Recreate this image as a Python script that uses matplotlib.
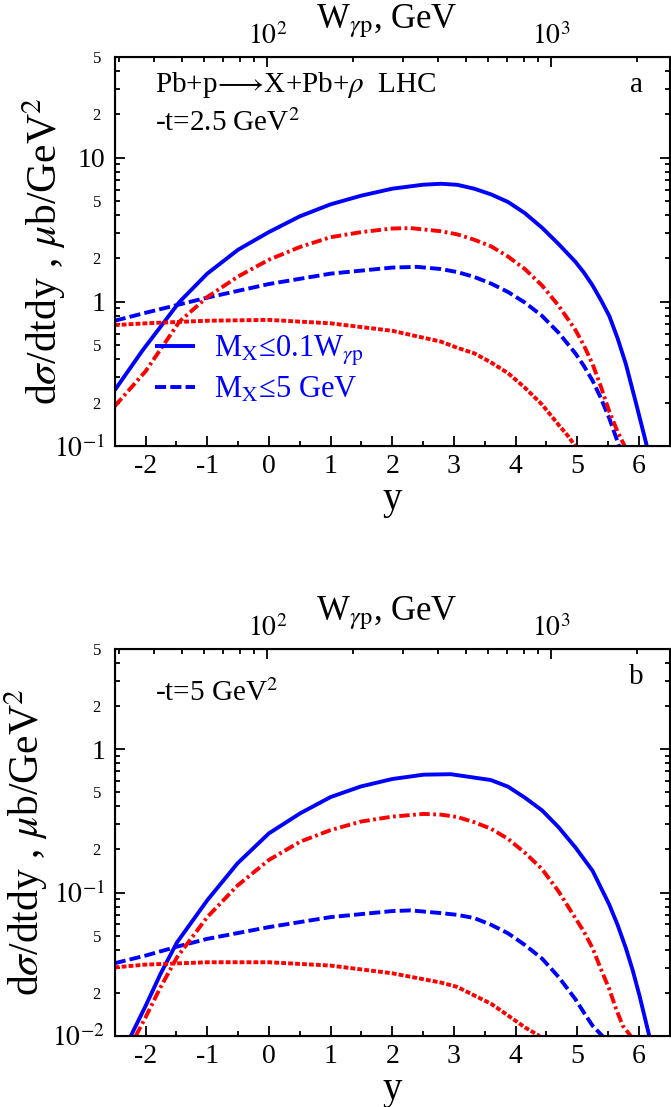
import numpy as np
import matplotlib
matplotlib.use("Agg")
import matplotlib.pyplot as plt
from matplotlib.ticker import FixedLocator, FixedFormatter, NullFormatter

plt.rcParams['font.family'] = ['Liberation Serif', 'DejaVu Serif']
plt.rcParams['mathtext.fontset'] = 'stix'
plt.rcParams['lines.scale_dashes'] = False

# ---- panel a : -t = 2.5 GeV^2 ----
ya_solid = [-2.5, -2.05, -1.45, -1.0, -0.5, 0.0, 0.5, 1.0, 1.5, 2.0, 2.5, 2.79, 3.056, 3.33,
            3.603, 3.88, 4.151, 4.43, 4.698, 4.97, 5.108, 5.25, 5.382, 5.52, 5.655, 5.79,
            5.96, 6.13]
va_solid = [0.244, 0.46, 1.0, 1.57, 2.3, 3.05, 3.92, 4.75, 5.46, 6.1, 6.5, 6.6, 6.49, 6.1,
            5.57, 4.93, 4.13, 3.27, 2.52, 1.90, 1.60, 1.30, 1.035, 0.80, 0.56, 0.37,
            0.194, 0.1]

ya_dash = [-2.5, -2.0, -1.45, -1.0, 0.0, 1.0, 2.0, 2.4, 2.79, 3.056, 3.33, 3.603, 3.88,
           4.151, 4.43, 4.70, 4.97, 5.108, 5.25, 5.382, 5.52, 5.68]
va_dash = [0.74, 0.84, 0.96, 1.07, 1.33, 1.57, 1.73, 1.75, 1.69, 1.61, 1.49, 1.34, 1.17,
           0.99, 0.80, 0.61, 0.44, 0.36, 0.284, 0.216, 0.156, 0.1]

ya_dashdot = [-2.5, -2.0, -1.45, -1.0, -0.5, 0.0, 0.5, 1.0, 1.5, 2.0, 2.3, 2.79, 3.056,
              3.33, 3.603, 3.88, 4.151, 4.43, 4.70, 4.97, 5.108, 5.25, 5.382, 5.52, 5.655,
              5.77]
va_dashdot = [0.189, 0.33, 0.73, 1.08, 1.5, 1.96, 2.4, 2.81, 3.05, 3.23, 3.25, 3.09, 2.94,
              2.70, 2.43, 2.06, 1.69, 1.30, 0.94, 0.64, 0.50, 0.37, 0.26, 0.174, 0.126,
              0.1]

ya_dot = [-2.5, -2.0, -1.0, 0.0, 1.0, 2.0, 2.79, 3.056, 3.33, 3.603, 3.88, 4.151, 4.43,
          4.70, 4.84, 4.97]
va_dot = [0.69, 0.71, 0.74, 0.75, 0.71, 0.63, 0.53, 0.48, 0.44, 0.38, 0.32, 0.254, 0.194,
          0.14, 0.119, 0.1]

# ---- panel b : -t = 5 GeV^2 ----
yb_solid = [-2.24, -2.0, -1.76, -1.49, -1.0, -0.51, 0.0, 0.51, 1.0, 1.49, 2.0, 2.51, 2.95,
            3.6, 3.88, 4.151, 4.43, 4.698, 4.97, 5.25, 5.382, 5.52, 5.655, 5.79, 5.9,
            6.01, 6.17]
vb_solid = [0.01, 0.0162, 0.027, 0.045, 0.0884, 0.16, 0.259, 0.358, 0.464, 0.55, 0.62, 0.665,
            0.67, 0.61, 0.548, 0.46, 0.375, 0.286, 0.207, 0.142, 0.109, 0.0826, 0.0597,
            0.041, 0.0288, 0.0192, 0.01]

yb_dash = [-2.5, -2.0, -1.49, -1.0, 0.0, 1.0, 2.0, 2.3, 2.79, 3.056, 3.33, 3.603, 3.88,
           4.151, 4.43, 4.70, 4.97, 5.108, 5.25, 5.41]
vb_dash = [0.0322, 0.0364, 0.042, 0.0476, 0.0575, 0.0675, 0.0744, 0.0752, 0.072, 0.070,
           0.0665, 0.0597, 0.052, 0.0432, 0.0347, 0.0258, 0.0181, 0.0146, 0.0118, 0.01]

yb_dashdot = [-2.16, -2.0, -1.76, -1.49, -1.0, -0.51, 0.0, 0.51, 1.0, 1.49, 2.0, 2.51, 2.79,
              3.056, 3.33, 3.603, 3.88, 4.151, 4.43, 4.698, 4.97, 5.108, 5.25, 5.382, 5.52,
              5.63, 5.74, 5.87]
vb_dashdot = [0.01, 0.0135, 0.0218, 0.0354, 0.0675, 0.112, 0.169, 0.227, 0.273, 0.313, 0.339,
              0.354, 0.35, 0.337, 0.31, 0.279, 0.237, 0.19, 0.146, 0.102, 0.0665, 0.0536,
              0.041, 0.0295, 0.0213, 0.0155, 0.0118, 0.01]

yb_dot = [-2.5, -2.0, -1.0, 0.0, 1.0, 2.0, 2.79, 3.056, 3.33, 3.603, 3.88, 4.151, 4.39]
vb_dot = [0.0301, 0.0315, 0.0327, 0.0327, 0.031, 0.0274, 0.0236, 0.022, 0.0192, 0.0168,
          0.0139, 0.0115, 0.01]

# W_gamma p axis (top)
W_major = [100, 1000]
W_major_lab = ['$10^2$', '$10^3$']
W_minor = [30, 40, 50, 60, 70, 80, 90, 200, 300, 400, 500, 600, 700, 800, 900, 2000]


def y_of_W(w):
    # W = 100 GeV * exp(y/2)
    return 2.0 * np.log(np.asarray(w) / 100.0) - 0.025


def setup_panel(ax, ylo, yhi, major, major_lab, ylab_x):
    ax.set_xlim(-2.5, 6.5)
    ax.set_yscale('log')
    ax.set_ylim(ylo, yhi)
    ax.xaxis.set_major_locator(FixedLocator(np.arange(-2, 7, 1)))
    ax.xaxis.set_minor_locator(FixedLocator(np.arange(-2.5, 6.6, 1.0)))
    ax.xaxis.set_major_formatter(FixedFormatter([str(i) for i in range(-2, 7)]))

    minors = []
    minor_lab = []
    d = ylo
    while d < yhi * 0.99:
        for k in range(2, 10):
            v = d * k
            if v <= yhi * 1.001:
                minors.append(v)
                minor_lab.append(str(k) if k in (2, 5) else '')
        d *= 10
    ax.yaxis.set_major_locator(FixedLocator(major))
    ax.yaxis.set_major_formatter(FixedFormatter(major_lab))
    ax.yaxis.set_minor_locator(FixedLocator(minors))
    ax.yaxis.set_minor_formatter(FixedFormatter(minor_lab))

    ax.tick_params(which='both', direction='in', top=False, right=True, width=1.3)
    ax.tick_params(which='major', length=7)
    ax.tick_params(which='minor', length=3.5)
    ax.tick_params(axis='x', which='major', labelsize=20, pad=6)
    ax.tick_params(axis='y', which='major', labelsize=20, pad=7)
    ax.tick_params(axis='y', which='minor', labelsize=12, pad=10)
    for s in ax.spines.values():
        s.set_linewidth(1.5)

    ax2 = ax.twiny()
    ax2.set_xlim(ax.get_xlim())
    ax2.xaxis.set_major_locator(FixedLocator(y_of_W(W_major)))
    ax2.xaxis.set_major_formatter(FixedFormatter(W_major_lab))
    ax2.xaxis.set_minor_locator(FixedLocator(y_of_W(W_minor)))
    ax2.xaxis.set_minor_formatter(NullFormatter())
    ax2.tick_params(which='both', direction='in', width=1.3, labelsize=20, pad=5)
    ax2.tick_params(which='major', length=7)
    ax2.tick_params(which='minor', length=3.5)
    ax.text(0.49, 1.075, 'W$_{\\gamma\\mathrm{p}}$, GeV', transform=ax.transAxes,
            fontsize=25, ha='center', va='baseline')

    ax.set_xlabel('y', fontsize=28, va='top')
    ax.xaxis.set_label_coords(0.5, -0.09)
    ax.set_ylabel('d$\\sigma$/dtdy , $\\mu$b/GeV$^2$', fontsize=30)
    ax.yaxis.set_label_coords(ylab_x, 0.5)


fig = plt.figure(figsize=(6.71, 11.07), dpi=100)
ax_a = fig.add_axes([0.171, 0.5971, 0.827, 0.3514])
ax_b = fig.add_axes([0.171, 0.0641, 0.827, 0.3496])

lw = 2.8
for ax, data in [(ax_a, (ya_solid, va_solid, ya_dash, va_dash, ya_dashdot, va_dashdot, ya_dot, va_dot)),
                 (ax_b, (yb_solid, vb_solid, yb_dash, vb_dash, yb_dashdot, vb_dashdot, yb_dot, vb_dot))]:
    ys, vs, yd, vd, ydd, vdd, ydt, vdt = data
    ln1, = ax.plot(ys, vs, color='blue', lw=lw, solid_capstyle='butt')
    ln2, = ax.plot(yd, vd, color='blue', lw=lw, dashes=(8, 3))
    ax.plot(ydd, vdd, color='red', lw=lw, dashes=(7.5, 2.5, 2, 2.5))
    ax.plot(ydt, vdt, color='red', lw=lw, dashes=(3.5, 1.5))
    if ax is ax_a:
        leg_handles = [ln1, ln2]

setup_panel(ax_a, 0.1, 50, [0.1, 1, 10], ['$10^{-1}$', '1', '10'], -0.085)
setup_panel(ax_b, 0.01, 5, [0.01, 0.1, 1], ['$10^{-2}$', '$10^{-1}$', '1'], -0.117)

ax_a.text(0.073, 0.928, 'Pb+p$\\!\\longrightarrow\\!$X+Pb+$\\rho$  LHC', transform=ax_a.transAxes,
          fontsize=21, va='center')
ax_a.text(0.073, 0.83, '-t=2.5 GeV$^2$', transform=ax_a.transAxes, fontsize=21, va='center')
ax_a.text(0.94, 0.928, 'a', transform=ax_a.transAxes, fontsize=21, va='center', ha='center')

ax_b.text(0.073, 0.886, '-t=5 GeV$^2$', transform=ax_b.transAxes, fontsize=21, va='center')
ax_b.text(0.94, 0.928, 'b', transform=ax_b.transAxes, fontsize=21, va='center', ha='center')

ax_a.legend(leg_handles, ['M$_{\\rm X}$\u22640.1W$_{\\gamma\\rm p}$', 'M$_{\\rm X}$\u22645 GeV'],
            loc='center left', bbox_to_anchor=(0.073, 0.197), frameon=False, fontsize=22,
            labelcolor='blue', handlelength=1.3, handletextpad=0.62, borderpad=0,
            borderaxespad=0, labelspacing=0.25)

fig.savefig('out.png', dpi=100)
